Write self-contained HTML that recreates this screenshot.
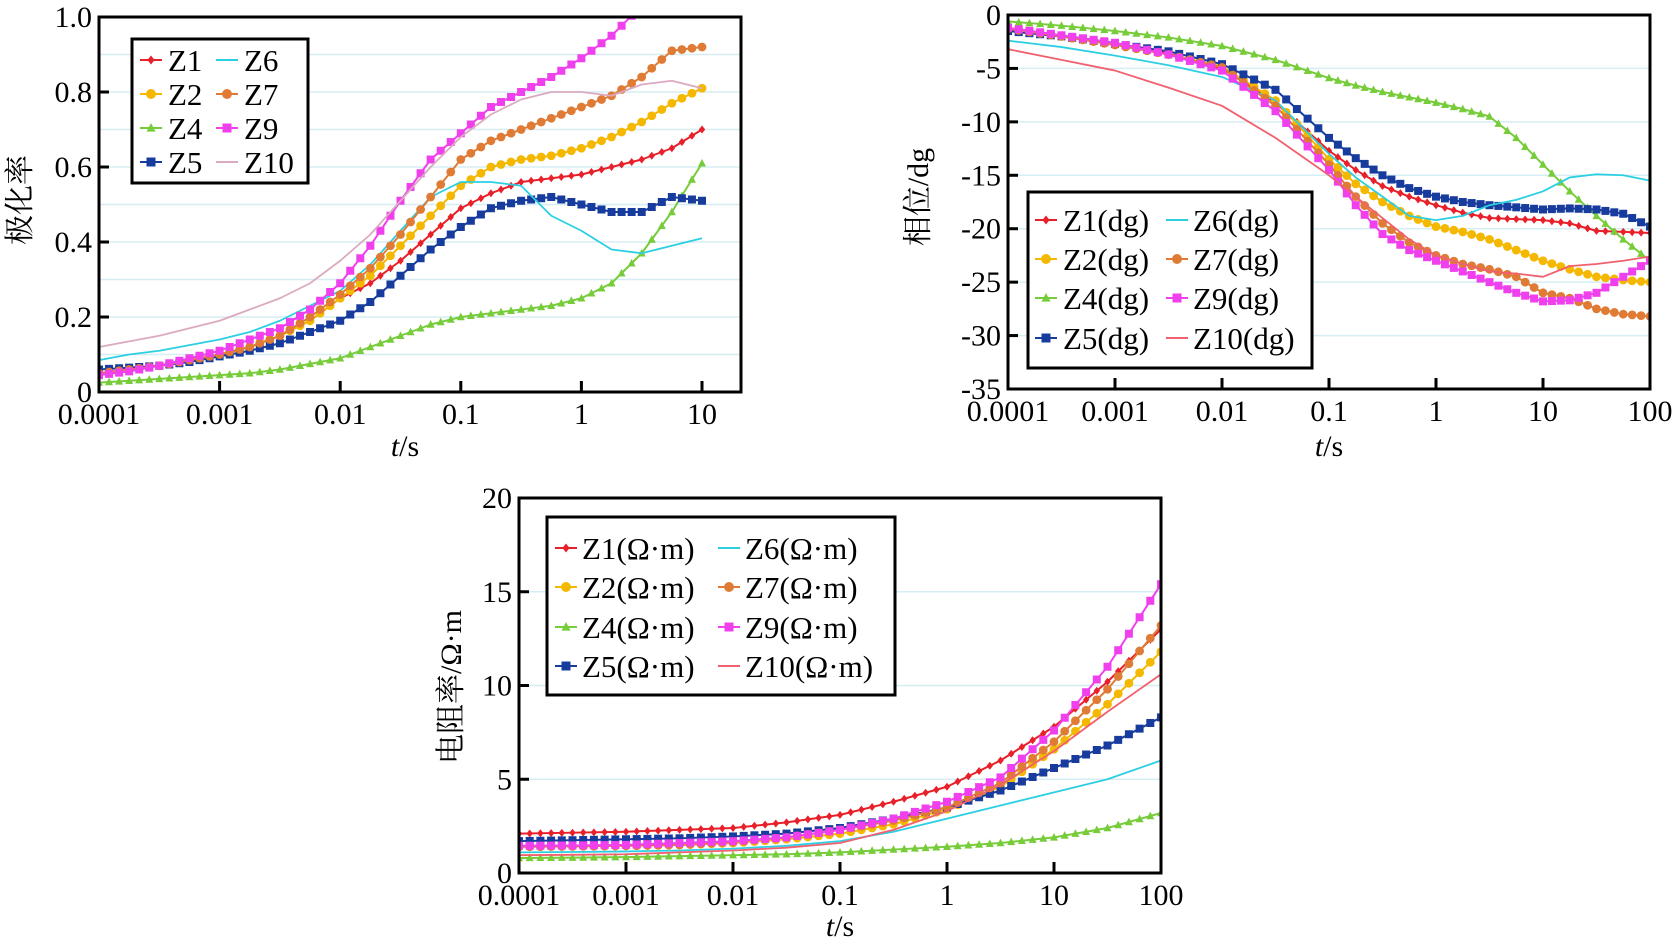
<!DOCTYPE html>
<html><head><meta charset="utf-8">
<style>
html,body{margin:0;padding:0;background:#fff;}
svg{display:block;}
svg text{font-family:"Liberation Serif","Noto Serif CJK SC",serif;}
</style></head>
<body>
<svg id="fig" width="1674" height="948" viewBox="0 0 1674 948" xmlns="http://www.w3.org/2000/svg" font-family="Liberation Serif, Noto Serif CJK SC, serif"></svg>
<script>
// ---------- Chart A: polarizability ----------
const logsA = [-4,-3.75,-3.5,-3.25,-3,-2.75,-2.5,-2.25,-2,-1.75,-1.5,-1.25,-1,-0.75,-0.5,-0.25,0,0.25,0.5,0.75,1];
const aZ1  = [0.05,0.06,0.07,0.085,0.10,0.12,0.15,0.19,0.25,0.29,0.35,0.42,0.49,0.53,0.56,0.57,0.58,0.60,0.62,0.65,0.70];
const aZ2  = [0.05,0.06,0.07,0.085,0.10,0.12,0.15,0.19,0.25,0.31,0.39,0.47,0.55,0.60,0.62,0.63,0.65,0.68,0.72,0.77,0.81];
const aZ4  = [0.025,0.03,0.035,0.04,0.045,0.05,0.06,0.075,0.09,0.12,0.15,0.18,0.20,0.21,0.22,0.23,0.25,0.29,0.37,0.48,0.61];
const aZ5  = [0.06,0.065,0.07,0.08,0.095,0.11,0.13,0.16,0.19,0.24,0.31,0.38,0.44,0.49,0.51,0.52,0.50,0.48,0.48,0.52,0.51];
const aZ6  = [0.085,0.10,0.11,0.125,0.14,0.16,0.19,0.23,0.27,0.34,0.43,0.52,0.56,0.56,0.55,0.47,0.43,0.38,0.37,0.39,0.41];
const aZ7  = [0.05,0.06,0.07,0.085,0.10,0.12,0.15,0.20,0.26,0.33,0.42,0.52,0.62,0.67,0.70,0.73,0.76,0.79,0.84,0.91,0.92];
const aZ9  = [0.045,0.055,0.07,0.09,0.11,0.14,0.17,0.22,0.29,0.39,0.51,0.62,0.69,0.76,0.80,0.84,0.89,0.95,1.03,null,null];
const aZ10 = [0.12,0.135,0.15,0.17,0.19,0.22,0.25,0.29,0.35,0.42,0.51,0.60,0.68,0.74,0.78,0.80,0.80,0.79,0.82,0.83,0.81];
const ticksA = ["0.0001","0.001","0.01","0.1","1","10"];
const yTicksA = ["0","0.2","0.4","0.6","0.8","1.0"];

// ---------- Chart B: phase ----------
const logsB = [-4,-3.5,-3,-2.5,-2,-1.5,-1,-0.75,-0.5,-0.25,0,0.25,0.5,0.75,1,1.25,1.5,1.75,2];
const bZ1  = [-1.5,-2.0,-2.7,-3.6,-5.0,-8.2,-12.7,-14.5,-16.0,-17.0,-17.8,-18.5,-19.0,-19.1,-19.2,-19.5,-20.2,-20.3,-20.4];
const bZ2  = [-1.2,-2.0,-2.8,-3.7,-4.8,-8.0,-13.5,-15.8,-17.5,-18.8,-19.8,-20.3,-21.0,-22.0,-23.0,-23.8,-24.5,-24.8,-25.0];
const bZ4  = [-0.6,-1.0,-1.5,-2.1,-2.9,-4.2,-5.9,-6.6,-7.2,-7.7,-8.2,-8.8,-9.5,-11.5,-14.0,-16.5,-18.8,-21.0,-23.0];
const bZ5  = [-1.5,-2.0,-2.7,-3.4,-4.6,-7.0,-11.5,-13.4,-15.0,-16.2,-17.0,-17.5,-17.8,-18.0,-18.2,-18.1,-18.2,-18.6,-19.8];
const bZ6  = [-2.4,-3.0,-3.8,-4.7,-5.8,-8.0,-13.0,-15.2,-17.0,-18.8,-19.2,-18.8,-17.8,-17.3,-16.5,-15.2,-14.9,-15.0,-15.5];
const bZ7  = [-1.3,-2.0,-2.8,-3.7,-4.9,-8.5,-14.0,-17.0,-19.5,-21.3,-22.5,-23.3,-23.8,-24.5,-26.0,-26.5,-27.5,-28.0,-28.2];
const bZ9  = [-1.2,-1.9,-2.6,-3.7,-5.2,-9.0,-14.5,-17.8,-20.5,-22.0,-23.0,-24.0,-25.0,-26.0,-26.8,-26.7,-26.0,-24.5,-23.0];
const bZ10 = [-3.2,-4.2,-5.2,-6.8,-8.5,-11.5,-15.0,-17.0,-19.0,-21.0,-22.5,-23.3,-24.0,-24.2,-24.5,-23.5,-23.3,-23.0,-22.6];
const ticksB = ["0.0001","0.001","0.01","0.1","1","10","100"];
const yTicksB = ["0","-5","-10","-15","-20","-25","-30","-35"];

// ---------- Chart C: resistivity ----------
const logsC = [-4,-3.5,-3,-2.5,-2,-1.5,-1,-0.5,0,0.5,1,1.5,2];
const cZ1  = [2.1,2.15,2.2,2.3,2.4,2.7,3.1,3.8,4.6,6.0,7.8,10.2,13.0];
const cZ2  = [1.4,1.42,1.45,1.5,1.6,1.8,2.1,2.6,3.4,4.6,6.6,9.0,11.8];
const cZ4  = [0.8,0.82,0.85,0.9,0.95,1.0,1.1,1.25,1.4,1.6,1.9,2.4,3.2];
const cZ5  = [1.7,1.75,1.8,1.85,1.95,2.1,2.4,2.9,3.5,4.4,5.6,6.8,8.3];
const cZ6  = [1.1,1.12,1.15,1.2,1.3,1.45,1.7,2.2,2.9,3.6,4.3,5.0,6.0];
const cZ7  = [1.4,1.42,1.45,1.5,1.65,1.9,2.3,2.8,3.5,4.8,7.0,9.8,13.2];
const cZ9  = [1.45,1.47,1.5,1.6,1.7,1.9,2.3,2.9,3.8,5.1,7.6,11.0,15.4];
const cZ10 = [0.95,0.97,1.0,1.1,1.2,1.35,1.6,2.3,3.3,4.7,6.5,8.6,10.6];
const ticksC = ["0.0001","0.001","0.01","0.1","1","10","100"];
const yTicksC = ["0","5","10","15","20"];

const NS = "http://www.w3.org/2000/svg";
const FONT = '"Liberation Serif", "Noto Serif CJK SC", serif';
const fig = document.getElementById('fig');
function el(tag, attrs, parent){
  const e = document.createElementNS(NS, tag);
  for (const k in attrs) e.setAttribute(k, attrs[k]);
  if (tag === 'text') e.style.fontFamily = FONT;
  (parent||fig).appendChild(e);
  return e;
}
const STY = {
  Z1:{c:'#e8202a',m:'diamond'}, Z2:{c:'#f5b800',m:'circle'}, Z4:{c:'#77cc3a',m:'tri'},
  Z5:{c:'#173c9e',m:'square'}, Z6:{c:'#2ccfe2',m:null}, Z7:{c:'#e07b35',m:'circle'},
  Z9:{c:'#f040ee',m:'square'}, Z10A:{c:'#dcaac0',m:null}, Z10:{c:'#f0606e',m:null}
};
function marker(g, type, x, y, c, s){
  let m;
  if (type==='circle') m = el('circle',{cx:x,cy:y,r:s*0.55,fill:c},g);
  else if (type==='square') m = el('rect',{x:x-s*0.5,y:y-s*0.5,width:s,height:s,fill:c},g);
  else if (type==='tri') m = el('polygon',{points:`${x},${y-s*0.55} ${x-s*0.5},${y+s*0.4} ${x+s*0.5},${y+s*0.4}`,fill:c},g);
  else m = el('polygon',{points:`${x},${y-s*0.5} ${x+s*0.4},${y} ${x},${y+s*0.5} ${x-s*0.4},${y}`,fill:c},g);
  
  
}

function drawChart(cfg){
  const {name,L,R,T,B,xmin,xmax,ymin,ymax,logs,series,xTicks,yTicks,yStep,grid,ylabel,ylx,yly,xlx,xly,legend} = cfg;
  const g = el('g',{});
  
  
  const xs = v => L + (v - xmin)/(xmax - xmin)*(R - L);
  const ys = v => B - (v - ymin)/(ymax - ymin)*(B - T);
  const cid = name+'-clip';
  const cp = el('clipPath',{id:cid},g); el('rect',{x:L,y:T,width:R-L,height:B-T},cp);
  grid.forEach(v=>{ const gl = el('line',{x1:L,x2:R,y1:ys(v),y2:ys(v),stroke:'#d6edf4','stroke-width':1.5},g);
      });
  const sg = el('g',{'clip-path':`url(#${cid})`},g);
  series.forEach(s=>{
    const st = STY[s.key];
    const pts = [];
    logs.forEach((lv,i)=>{ if (s.vals[i]!==null && s.vals[i]!==undefined) pts.push([lv, s.vals[i]]); });
    const p = el('polyline',{points:pts.map(q=>xs(q[0])+','+ys(q[1])).join(' '),fill:'none',stroke:st.c,'stroke-width':st.m?2:1.8,'stroke-linejoin':'round'},sg);
    
    
    if (st.m){
      for (let i=0;i<pts.length-1;i++){
        const [x0,y0]=pts[i],[x1,y1]=pts[i+1];
        const n = Math.max(1, Math.round((x1-x0)/0.1));
        for (let k=0;k<n;k++){ const t=k/n; marker(sg, st.m, xs(x0+(x1-x0)*t), ys(y0+(y1-y0)*t), st.c, 8); }
      }
      const last = pts[pts.length-1]; marker(sg, st.m, xs(last[0]), ys(last[1]), st.c, 8);
    }
  });
  const fr = el('rect',{x:L,y:T,width:R-L,height:B-T,fill:'none',stroke:'#000','stroke-width':3},g);
   
  xTicks.forEach((lab,i)=>{
    const x = xs(xmin+i);
    if (i>0) el('line',{x1:x,x2:x,y1:B,y2:B-11,stroke:'#000','stroke-width':3},g);
    const t = el('text',{x:x,y:B+32,'font-size':30,'text-anchor':'middle'},g);
    t.textContent = lab;  
  });
  yTicks.forEach((lab,i)=>{
    const v = ymin + i*yStep; const y = ys(v);
    if (i>0 && i<yTicks.length-1) el('line',{x1:L,x2:L+10,y1:y,y2:y,stroke:'#000','stroke-width':3},g);
    const t = el('text',{x:L-7,y:y+10,'font-size':30,'text-anchor':'end'},g);
    t.textContent = lab;  
  });
  const yl = el('text',{x:0,y:0,'font-size':30,'text-anchor':'middle',transform:`translate(${ylx},${yly}) rotate(-90)`},g);
  yl.textContent = ylabel;  
  const xl = el('text',{x:xlx,y:xly,'font-size':30,'text-anchor':'middle'},g);
  xl.innerHTML = '<tspan font-style="italic">t</tspan>/s';  
  const lg = el('g',{},g);
   
  el('rect',{x:legend.x,y:legend.y,width:legend.w,height:legend.h,fill:'#fff',stroke:'#000','stroke-width':3},lg);
  series.forEach((s,i)=>{
    const col = i<4?0:1, row = i%4;
    const mx = legend.mx[col], ty = legend.rows[row], tx = legend.tx[col];
    const st = STY[s.key];
    const e = el('g',{},lg);
    
    
    el('line',{x1:mx-11,x2:mx+11,y1:ty,y2:ty,stroke:st.c,'stroke-width':2},e);
    if (st.m) marker(e, st.m, mx, ty, st.c, 9);
    const t = el('text',{x:tx,y:ty+11,'font-size':31},e);
    t.textContent = s.label + legend.suffix;
  });
}

drawChart({name:'polarizability-chart',L:99,R:741,T:17,B:392,xmin:-4,xmax:1+39/120.6,ymin:0,ymax:1,
  logs:logsA, series:[{key:'Z1',label:'Z1',vals:aZ1},{key:'Z2',label:'Z2',vals:aZ2},{key:'Z4',label:'Z4',vals:aZ4},{key:'Z5',label:'Z5',vals:aZ5},
  {key:'Z6',label:'Z6',vals:aZ6},{key:'Z7',label:'Z7',vals:aZ7},{key:'Z9',label:'Z9',vals:aZ9},{key:'Z10A',label:'Z10',vals:aZ10}],
  xTicks:ticksA,yTicks:yTicksA,yStep:0.2,grid:[0.1,0.2,0.3,0.4,0.5,0.6,0.7,0.8,0.9],
  ylabel:'极化率',ylx:30,yly:200,xlx:405,xly:456,
  legend:{x:132,y:39,w:176,h:144,rows:[60,94,128,162],mx:[151,227],tx:[168,244],suffix:''}});

drawChart({name:'phase-chart',L:1008,R:1650,T:15,B:389,xmin:-4,xmax:2,ymin:-35,ymax:0,
  logs:logsB, series:[{key:'Z1',label:'Z1',vals:bZ1},{key:'Z2',label:'Z2',vals:bZ2},{key:'Z4',label:'Z4',vals:bZ4},{key:'Z5',label:'Z5',vals:bZ5},
  {key:'Z6',label:'Z6',vals:bZ6},{key:'Z7',label:'Z7',vals:bZ7},{key:'Z9',label:'Z9',vals:bZ9},{key:'Z10',label:'Z10',vals:bZ10}],
  xTicks:ticksB,yTicks:yTicksB.slice().reverse(),yStep:5,grid:[-5,-10,-15,-20,-25,-30],
  ylabel:'相位/dg',ylx:928,yly:197,xlx:1329,xly:456,
  legend:{x:1028,y:192,w:284,h:176,rows:[220,259,298,338],mx:[1046,1177],tx:[1063,1193],suffix:'(dg)'}});

drawChart({name:'resistivity-chart',L:519,R:1161,T:498,B:873,xmin:-4,xmax:2,ymin:0,ymax:20,
  logs:logsC, series:[{key:'Z1',label:'Z1',vals:cZ1},{key:'Z2',label:'Z2',vals:cZ2},{key:'Z4',label:'Z4',vals:cZ4},{key:'Z5',label:'Z5',vals:cZ5},
  {key:'Z6',label:'Z6',vals:cZ6},{key:'Z7',label:'Z7',vals:cZ7},{key:'Z9',label:'Z9',vals:cZ9},{key:'Z10',label:'Z10',vals:cZ10}],
  xTicks:ticksC,yTicks:yTicksC,yStep:5,grid:[5,10,15],
  ylabel:'电阻率/Ω·m',ylx:461,yly:687,xlx:840,xly:936,
  legend:{x:547,y:517,w:348,h:178,rows:[548,587,627,666],mx:[566,729],tx:[582,745],suffix:'(Ω·m)'}});
</script>
</body></html>
